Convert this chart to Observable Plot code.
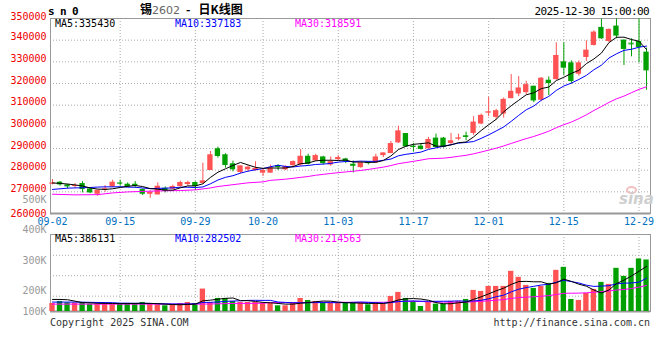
<!DOCTYPE html>
<html><head><meta charset="utf-8">
<script src="https://cdn.jsdelivr.net/npm/d3@7"></script>
<script src="https://cdn.jsdelivr.net/npm/@observablehq/plot@0.6"></script>
<style>
body{margin:0;background:#fff;}
#wrap{position:relative;width:660px;height:360px;overflow:hidden;background:#fff;font-family:"DejaVu Sans Mono",monospace;}
#wrap svg{position:absolute;left:0;}
.t{position:absolute;white-space:nowrap;line-height:1;font-size:10px;font-family:"DejaVu Sans Mono",monospace;}
</style></head><body><div id="wrap"></div>
<script>
// ---- data ----
const dates = ["09-02","09-03","09-04","09-05","09-08","09-09","09-10","09-11","09-12","09-15","09-16","09-17","09-18","09-19","09-22","09-23","09-24","09-25","09-26","09-29","09-30","10-09","10-10","10-13","10-14","10-15","10-16","10-17","10-20","10-21","10-22","10-23","10-24","10-27","10-28","10-29","10-30","10-31","11-03","11-04","11-05","11-06","11-07","11-10","11-11","11-12","11-13","11-14","11-17","11-18","11-19","11-20","11-21","11-24","11-25","11-26","11-27","11-28","12-01","12-02","12-03","12-04","12-05","12-08","12-09","12-10","12-11","12-12","12-15","12-16","12-17","12-18","12-19","12-22","12-23","12-24","12-25","12-26","12-29","12-30"];
const open  = [273510,274430,273200,272580,273820,271350,268880,271200,272270,274130,273510,273510,271040,268880,268570,271660,271220,272450,273380,274300,273840,279850,289880,287100,282940,278930,280160,279850,278620,278620,282170,280160,282100,282410,286420,284260,286110,282410,284880,285190,282720,281180,283800,283340,286730,287660,292590,296910,291100,291100,289870,294800,294800,292330,294500,295880,296960,301280,306500,304360,305910,313000,315160,315780,318740,312260,321520,321820,330000,329540,324290,332000,337560,345890,339410,346500,340030,338600,339410,334470];
const high  = [275670,274740,273510,273820,274740,271660,270730,272890,275360,275360,274120,274740,271350,270420,274120,272270,273070,274920,274920,274610,283250,288650,290650,287570,284170,282010,282010,283860,280780,282320,282480,282010,284260,289510,287350,287350,286420,286110,286730,285500,284260,283950,283950,287350,287960,293210,300300,296910,292330,292330,295110,296650,295110,296960,296650,297580,304680,305910,313620,308070,313310,324110,323180,321020,318740,322750,323060,338790,338790,330460,330460,339720,344350,349700,345200,349800,340030,340640,349800,336320];
const low   = [273200,272580,271350,271660,269500,269190,267960,269810,271960,272580,271960,271660,268260,267030,268570,269500,270910,272140,272760,270600,273530,279850,285560,280930,279240,278310,279240,279540,277080,278620,279850,279850,281180,281790,282410,283950,282410,281790,284260,283030,278710,280870,282410,283340,285810,287660,292280,290740,288320,289250,289870,290170,290170,291410,293570,293570,296030,300970,304680,303130,304060,313000,313930,314850,311180,311640,314420,321510,323680,319670,323370,330150,337250,340340,338790,340640,328300,332310,329540,316890];
const close = [274120,273200,272270,272890,271040,269500,270730,271350,274430,274000,272270,272580,268880,269810,272580,270120,272450,274300,274300,272450,275070,287100,286330,282170,280160,282010,281400,280780,279850,281090,281710,281710,283950,286420,282720,286730,283030,283950,285810,283950,281790,283340,283030,286110,287960,292280,298150,290740,290480,289560,294180,290480,290480,293570,294800,295570,302200,305290,306830,307450,312690,316400,317940,319480,311950,322440,319970,332930,327070,320900,329540,335400,343730,340640,344960,341880,335710,338300,336630,325840];
const volume = [68400,85500,74100,71300,77000,62700,62700,71300,68400,68400,68400,68400,77000,62700,57000,48500,51300,68400,77000,68400,191000,77000,111200,111200,85500,77000,77000,77000,71300,68400,48500,48500,77000,111200,94100,85500,77000,71300,71300,71300,71300,71300,57000,77000,62700,128300,162500,111200,85500,42800,77000,62700,62700,85500,85500,102600,179600,171000,213800,213800,213800,342000,290700,222300,196700,213800,239400,350600,376200,102600,94100,153900,188100,248000,230900,367700,299300,367700,447500,438900];
const ma5LeadIdx = [0,1,2,3],  ma5LeadVal = [274100,273900,273600,273200];
const ma10LeadIdx = [0,1,2,3,4,5,6,7,8], ma10LeadVal = [271100,271400,271700,271800,271900,272000,272200,272300,272300];
const ma30LeadIdx = [0,3,6,8,10,14,17,19,21,22,24,26,28], ma30LeadVal = [268900,268600,268700,269500,269960,270420,270600,270900,271800,272450,273300,274150,274600];
const vma5LeadIdx = [0,1,2,3], vma5LeadVal = [102600,102600,100000,88000];
const vma10LeadIdx = [0,3,5,7,8], vma10LeadVal = [80000,80000,78000,76000,75000];
const vma30LeadIdx = [0,20,24,28], vma30LeadVal = [62700,62700,68400,70000];
const xTickLabels = ["09-02","09-15","09-29","10-20","11-03","11-17","12-01","12-15","12-29"];
const priceTicksMid = [270000,280000,290000,300000,310000,320000,330000,340000];
const priceTickLow = [260000], priceTickHigh = [350000];
const priceGrid = [270000,280000,290000,300000,310000,320000,330000,340000];
const volTickLabels = ["500K","400K","300K","200K","100K"];
const volTickPos = [949000,692600,436000,175000,-4000];
const volGrid = [130800,305000,478800];
const volMax = 655800;
const maLabels = ["MA5:335430","MA10:337183","MA30:318591"];
const vmaLabels = ["MA5:386131","MA10:282502","MA30:214563"];

// ---- build ----
const RED = "#ff5252", GREEN = "#00a000";
const idx = d3.range(dates.length);
const bars = idx.map(i => ({i, o: open[i], h: high[i], l: low[i], c: close[i], v: volume[i], up: close[i] > open[i]}));
const col = d => d.up ? RED : GREEN;
function ma(values, k, li, lv) {
  const pts = li.map((i, j) => ({i, v: lv[j]}));
  for (let i = k - 1; i < values.length; i++) pts.push({i, v: d3.mean(values.slice(i - k + 1, i + 1))});
  return pts;
}
const tickIdx = xTickLabels.map(d => dates.indexOf(d));
const gridIdx = tickIdx.filter(i => i > 0);
const xScale = {type: "band", domain: idx, range: [48.24, 649.8], padding: 0, round: false, axis: null, label: null};
const font = "'DejaVu Sans Mono', monospace";
const dot = {stroke: "#aaa", strokeDasharray: "1,2"};
const yAx = {tickSize: 0, tickPadding: 4, color: "#ee0000", fontSize: 10, label: null, tickFormat: d => String(d)};

const price = Plot.plot({
  width: 660, height: 230, marginLeft: 50, marginRight: 10, marginTop: 18, marginBottom: 17,
  style: {background: "transparent", fontFamily: font, fontSize: "10px", overflow: "visible"},
  x: xScale,
  y: {domain: [260000, 350000], axis: null, label: null},
  marks: [
    Plot.ruleY(priceGrid, dot),
    Plot.ruleX(gridIdx, dot),
    Plot.frame({stroke: "#999"}),
    Plot.ruleY([260000], {stroke: "#999", strokeWidth: 2}),
    Plot.ruleX(bars, {x: "i", y1: "l", y2: "h", stroke: col}),
    Plot.barY(bars, {x: "i", y1: "o", y2: "c", fill: col, insetLeft: 1.1, insetRight: 1.1}),
    Plot.tickY(bars.filter(d => Math.abs(d.o - d.c) < 600), {x: "i", y: "c", stroke: col, insetLeft: 1.1, insetRight: 1.1}),
    Plot.line(ma(close, 30, ma30LeadIdx, ma30LeadVal), {x: "i", y: "v", stroke: "#ff00ff", strokeWidth: 1}),
    Plot.line(ma(close, 10, ma10LeadIdx, ma10LeadVal), {x: "i", y: "v", stroke: "#0000ff", strokeWidth: 1}),
    Plot.line(ma(close, 5, ma5LeadIdx, ma5LeadVal), {x: "i", y: "v", stroke: "#000", strokeWidth: 1}),
    Plot.axisY(priceTicksMid, {...yAx, dy: -3}),
    Plot.axisY(priceTickHigh, {...yAx, dy: -1.5}),
    Plot.axisY(priceTickLow, {...yAx, dy: 0}),
    Plot.axisX(tickIdx, {tickSize: 0, tickPadding: 4, color: "#0070c0", tickFormat: i => dates[i], fontSize: 10, label: null})
  ]
});
price.style.top = "0px";

const vol = Plot.plot({
  width: 660, height: 140, marginLeft: 50, marginRight: 10, marginTop: 44, marginBottom: 19,
  style: {background: "transparent", fontFamily: font, fontSize: "10px", overflow: "visible"},
  x: xScale,
  y: {domain: [0, volMax], axis: null, label: null},
  marks: [
    Plot.ruleY(volGrid, dot),
    Plot.ruleX(gridIdx, dot),
    Plot.frame({stroke: "#999"}),
    Plot.ruleY([0], {stroke: "#999", strokeWidth: 2}),
    Plot.barY(bars, {x: "i", y: "v", fill: col, insetLeft: 1.1, insetRight: 1.1}),
    Plot.line(ma(volume, 30, vma30LeadIdx, vma30LeadVal), {x: "i", y: "v", stroke: "#ff00ff", strokeWidth: 1}),
    Plot.line(ma(volume, 10, vma10LeadIdx, vma10LeadVal), {x: "i", y: "v", stroke: "#0000ff", strokeWidth: 1}),
    Plot.line(ma(volume, 5, vma5LeadIdx, vma5LeadVal), {x: "i", y: "v", stroke: "#000", strokeWidth: 1}),
    Plot.axisY(volTickPos, {tickSize: 0, tickPadding: 4, color: "#999", label: null, tickFormat: d => volTickLabels[volTickPos.indexOf(d)], fontSize: 10})
  ]
});
vol.style.top = "190px";

const wrap = document.getElementById("wrap");
wrap.appendChild(price);
wrap.appendChild(vol);

function addText(txt, css) {
  const d = document.createElement("div");
  d.className = "t";
  d.innerHTML = txt;
  Object.assign(d.style, css);
  wrap.appendChild(d);
  return d;
}
addText("s n 0", {left: "48px", top: "6px", fontSize: "11px", fontWeight: "bold", letterSpacing: "-0.6px"});
addText('锡<span style="color:#666;font-family:\'DejaVu Sans\';font-weight:normal;font-size:11px">2602</span><span style="padding:0 8px 0 6px">-</span>日K线图', {left: "140px", top: "3px", fontSize: "12px", fontFamily: "'Noto Sans CJK SC', sans-serif", fontWeight: "bold"});
addText("2025-12-30 15:00:00", {right: "11px", top: "6px", fontSize: "11px", letterSpacing: "-0.6px"});
const maColors = ["#000", "#0000ff", "#ff00ff"], maX = [55, 175, 295];
maLabels.forEach((s, j) => addText(s, {left: maX[j] + "px", top: "19px", color: maColors[j]}));
vmaLabels.forEach((s, j) => addText(s, {left: maX[j] + "px", top: "234px", color: maColors[j]}));
addText("Copyright 2025 SINA.COM", {left: "50px", top: "318px", color: "#333"});
addText("http://finance.sina.com.cn", {right: "10px", top: "318px", color: "#333"});
const eye = document.createElement("div");
Object.assign(eye.style, {position: "absolute", left: "626px", top: "186px", width: "11px", height: "8px", borderRadius: "50%", border: "2px solid #f3c0c0", boxSizing: "border-box"});
wrap.appendChild(eye);
addText("sina", {left: "619px", top: "192px", fontSize: "15px", fontWeight: "bold", fontStyle: "italic", color: "#cfcfcf", fontFamily: "'DejaVu Sans', sans-serif"});
</script></body></html>
